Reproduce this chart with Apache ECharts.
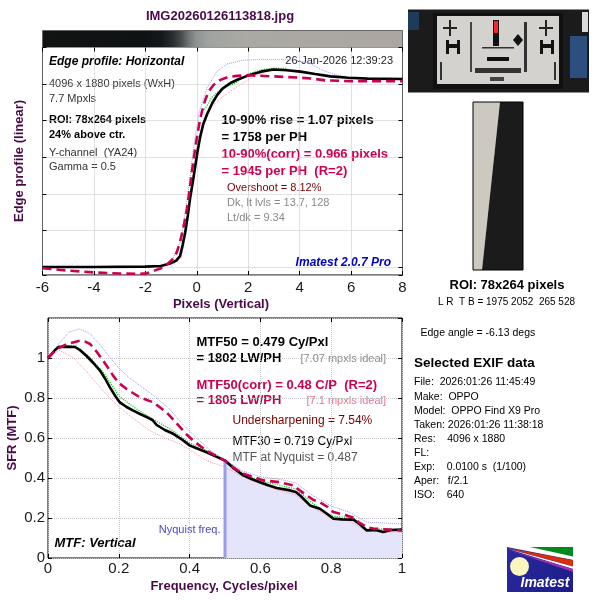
<!DOCTYPE html>
<html>
<head>
<meta charset="utf-8">
<script src="https://cdn.jsdelivr.net/npm/echarts@6/dist/echarts.min.js"></script>
<style>html,body{margin:0;padding:0;background:#fff}#c{width:600px;height:600px}</style>
</head>
<body>
<div id="c"></div>
<script>
// ---------- DATA ----------
// Edge profile (x: pixels, y: normalized linear level)
const edgeBlack = [[-6,0],[-4,0],[-2,0.002],[-1.4,0.005],[-1.04,0.019],[-0.8,0.035],[-0.65,0.06],[-0.55,0.12],[-0.45,0.19],[-0.35,0.28],[-0.26,0.375],[-0.16,0.46],[-0.06,0.55],[0.04,0.64],[0.13,0.71],[0.25,0.78],[0.4,0.835],[0.6,0.895],[0.79,0.94],[1.0,0.975],[1.31,1.006],[1.6,1.025],[1.96,1.045],[2.5,1.068],[2.98,1.08],[3.5,1.076],[4.03,1.068],[4.6,1.055],[5.2,1.042],[5.9,1.035],[6.64,1.03],[8,1.028]];
const edgeCorr = [[-6,-0.007],[-5,-0.02],[-4,-0.03],[-3,-0.036],[-2.2,-0.038],[-1.94,-0.034],[-1.65,-0.02],[-1.42,-0.009],[-1.15,0.015],[-0.91,0.046],[-0.78,0.08],[-0.65,0.137],[-0.5,0.23],[-0.38,0.32],[-0.28,0.42],[-0.19,0.521],[-0.1,0.61],[0.0,0.704],[0.1,0.785],[0.2,0.85],[0.32,0.91],[0.46,0.959],[0.65,0.995],[0.92,1.023],[1.2,1.038],[1.57,1.045],[2.0,1.048],[3.0,1.042],[4.0,1.035],[4.5,1.03],[5.0,1.02],[6,1.016],[8,1.016]];
const edgeHigh = [[-1,0.02],[-0.6,0.15],[-0.3,0.45],[-0.1,0.68],[0.1,0.85],[0.4,0.98],[0.79,1.07],[1.18,1.11],[1.8,1.13],[2.5,1.135],[3.2,1.135],[3.9,1.13],[4.4,1.113],[4.9,1.075],[5.4,1.05],[5.8,1.04]];
const edgeLow = [[-1,0.0],[-0.6,0.05],[-0.4,0.2],[-0.2,0.45],[0,0.65],[0.3,0.8],[0.6,0.88],[1.0,0.93],[1.5,0.98],[2.2,1.04],[2.6,1.06]];
const edgeMid = [[0.3,0.86],[0.6,0.93],[1.0,0.98],[1.43,1.0],[2.0,1.055],[2.5,1.078],[3.0,1.088],[3.5,1.085]];

// MTF (x: cycles/pixel, y: SFR)
const mtfBlack = [[0,1.0],[0.02,1.04],[0.03,1.055],[0.05,1.057],[0.076,1.055],[0.09,1.04],[0.109,1.01],[0.128,0.975],[0.147,0.937],[0.162,0.895],[0.175,0.853],[0.19,0.81],[0.203,0.778],[0.222,0.755],[0.241,0.737],[0.26,0.72],[0.279,0.704],[0.295,0.69],[0.307,0.665],[0.33,0.64],[0.354,0.621],[0.38,0.59],[0.401,0.562],[0.425,0.545],[0.448,0.529],[0.475,0.507],[0.5,0.487],[0.525,0.448],[0.552,0.413],[0.575,0.395],[0.599,0.379],[0.62,0.365],[0.646,0.35],[0.684,0.338],[0.7,0.33],[0.712,0.313],[0.725,0.29],[0.74,0.263],[0.768,0.246],[0.785,0.225],[0.806,0.197],[0.83,0.193],[0.863,0.192],[0.88,0.17],[0.9,0.138],[0.925,0.14],[0.947,0.13],[0.97,0.14],[1.0,0.142]];
const mtfCorr = [[0,1.0],[0.025,1.045],[0.053,1.07],[0.09,1.086],[0.105,1.082],[0.119,1.07],[0.138,1.03],[0.156,0.986],[0.17,0.95],[0.184,0.912],[0.2,0.875],[0.222,0.845],[0.24,0.825],[0.26,0.803],[0.298,0.778],[0.315,0.755],[0.335,0.728],[0.355,0.69],[0.373,0.654],[0.39,0.62],[0.41,0.587],[0.43,0.56],[0.448,0.537],[0.475,0.51],[0.5,0.487],[0.525,0.45],[0.552,0.421],[0.58,0.405],[0.608,0.388],[0.655,0.379],[0.693,0.363],[0.71,0.34],[0.731,0.313],[0.75,0.29],[0.768,0.279],[0.79,0.255],[0.806,0.23],[0.844,0.213],[0.865,0.2],[0.877,0.18],[0.9,0.155],[0.919,0.147],[0.966,0.142],[1.0,0.137]];
const mtfHigh = [[0,1.0],[0.03,1.07],[0.06,1.13],[0.09,1.145],[0.12,1.12],[0.15,1.06],[0.175,1.003],[0.2,0.95],[0.23,0.9],[0.26,0.862],[0.3,0.81],[0.34,0.75],[0.38,0.67],[0.42,0.6],[0.46,0.535],[0.5,0.49],[0.55,0.435],[0.6,0.405],[0.65,0.395],[0.7,0.375],[0.75,0.31],[0.8,0.26],[0.85,0.23],[0.9,0.18],[0.95,0.175],[1.0,0.17]];
const mtfLow = [[0,1.0],[0.03,1.04],[0.071,1.003],[0.11,0.93],[0.147,0.853],[0.18,0.79],[0.213,0.737],[0.25,0.685],[0.288,0.637],[0.33,0.6],[0.373,0.571],[0.41,0.53],[0.448,0.487],[0.5,0.455],[0.55,0.405],[0.6,0.37],[0.65,0.34],[0.7,0.315],[0.75,0.25],[0.8,0.2],[0.85,0.185],[0.9,0.135],[0.95,0.13],[1.0,0.13]];
const mtfMid = [[0.03,1.06],[0.08,1.06],[0.12,1.0],[0.16,0.92],[0.2,0.81],[0.25,0.745],[0.3,0.69],[0.35,0.64],[0.4,0.575],[0.45,0.535],[0.5,0.49],[0.55,0.425],[0.6,0.385],[0.7,0.345],[0.75,0.27],[0.8,0.21],[0.86,0.2],[0.9,0.145],[1.0,0.143]];

const nyquist = 0.5;
const mtfAtNyquist = 0.487;

// ---------- STYLE ----------
const FF = '"Liberation Sans", Arial, sans-serif';
const PURPLE = '#4a0a4a';
const CRIMSON = '#cc0050';

const chart = echarts.init(document.getElementById('c'), null, {renderer:'canvas'});

function tx(text, x, y, font, fill, align, extra) {
  return Object.assign({type:'text', x:x, y:y, silent:true,
    style:{text:text, font:font, fill:fill, textAlign:align||'left', textVerticalAlign:'middle'}}, extra||{});
}
const split = {show:true, lineStyle:{color:'#c4c4c4', type:'dotted', width:1}};
const tickIn = {show:true, inside:true, length:4, lineStyle:{color:'#000'}};
const hid = {show:false};
const noLine = {show:false, onZero:false};

const option = {
  animation:false,
  backgroundColor:'#fff',
  grid:[
    {left:42.5, top:47.5, width:360, height:227.5, show:true, borderColor:'#000', borderWidth:1, backgroundColor:'#fff'},
    {left:48, top:318, width:354, height:240, show:true, borderColor:'#000', borderWidth:1, backgroundColor:'#fff'}
  ],
  xAxis:[
    {type:'value', gridIndex:0, min:-6, max:8, interval:2, axisLine:noLine, axisTick:tickIn, splitLine:split,
      axisLabel:{color:'#1a1a1a', fontSize:15, fontFamily:FF, margin:5}},
    {type:'value', gridIndex:0, position:'top', min:-6, max:8, interval:2, axisLine:noLine, axisTick:tickIn, splitLine:hid, axisLabel:hid},
    {type:'value', gridIndex:1, min:0, max:1, interval:0.2, axisLine:noLine, axisTick:tickIn, splitLine:split,
      axisLabel:{color:'#1a1a1a', fontSize:15, fontFamily:FF, margin:3}},
    {type:'value', gridIndex:1, position:'top', min:0, max:1, interval:0.2, axisLine:noLine, axisTick:tickIn, splitLine:hid, axisLabel:hid}
  ],
  yAxis:[
    {type:'value', gridIndex:0, min:-0.044, max:1.2, splitNumber:6, axisLine:noLine, axisTick:tickIn, splitLine:split, axisLabel:hid},
    {type:'value', gridIndex:0, position:'right', min:-0.044, max:1.2, splitNumber:6, axisLine:noLine, axisTick:tickIn, splitLine:hid, axisLabel:hid},
    {type:'value', gridIndex:1, min:0, max:1.2, interval:0.2, axisLine:noLine, axisTick:tickIn, splitLine:split,
      axisLabel:{color:'#1a1a1a', fontSize:15, fontFamily:FF, margin:3, showMaxLabel:false}},
    {type:'value', gridIndex:1, position:'right', min:0, max:1.2, interval:0.2, axisLine:noLine, axisTick:tickIn, splitLine:hid, axisLabel:hid}
  ],
  series:[
    // top: edge profile
    {type:'line', xAxisIndex:0, yAxisIndex:0, data:edgeHigh, symbol:'none', lineStyle:{color:'#9a9aff', width:1, type:'dotted'}, z:2},
    {type:'line', xAxisIndex:0, yAxisIndex:0, data:edgeLow, symbol:'none', lineStyle:{color:'#ff9aaa', width:1, type:'dotted'}, z:2},
    {type:'line', xAxisIndex:0, yAxisIndex:0, data:edgeMid, symbol:'none', lineStyle:{color:'#00d000', width:1.2, type:'dotted'}, z:2},
    {type:'line', xAxisIndex:0, yAxisIndex:0, data:edgeBlack, symbol:'none', lineStyle:{color:'#000', width:2.6}, z:4},
    {type:'line', xAxisIndex:0, yAxisIndex:0, data:edgeCorr, symbol:'none', lineStyle:{color:CRIMSON, width:2.6, type:[9,5]}, z:5},
    // bottom: MTF
    {type:'line', xAxisIndex:2, yAxisIndex:2, data:mtfBlack.filter(p=>p[0]>=nyquist), symbol:'none',
      lineStyle:{width:0, opacity:0}, areaStyle:{color:'#e4e4fb', opacity:1}, z:1},
    {type:'line', xAxisIndex:2, yAxisIndex:2, data:[[nyquist,0],[nyquist,mtfAtNyquist]], symbol:'none', lineStyle:{color:'#9c9cee', width:3}, z:2},
    {type:'line', xAxisIndex:2, yAxisIndex:2, data:mtfHigh, symbol:'none', lineStyle:{color:'#9a9aff', width:1, type:'dotted'}, z:2},
    {type:'line', xAxisIndex:2, yAxisIndex:2, data:mtfLow, symbol:'none', lineStyle:{color:'#ff9aaa', width:1, type:'dotted'}, z:2},
    {type:'line', xAxisIndex:2, yAxisIndex:2, data:mtfMid, symbol:'none', lineStyle:{color:'#00d000', width:1.2, type:'dotted'}, z:2},
    {type:'line', xAxisIndex:2, yAxisIndex:2, data:mtfBlack, symbol:'none', lineStyle:{color:'#000', width:2.6}, z:4},
    {type:'line', xAxisIndex:2, yAxisIndex:2, data:mtfCorr, symbol:'none', lineStyle:{color:CRIMSON, width:2.6, type:[9,5]}, z:5}
  ],
  graphic:[
    // gray-level bar above edge plot
    {type:'rect', shape:{x:42.5, y:30.5, width:360, height:17}, silent:true,
      style:{stroke:'#666', lineWidth:1, fill:new echarts.graphic.LinearGradient(0,0,1,0,[
        {offset:0,color:'#121312'},{offset:0.28,color:'#0f1214'},{offset:0.33,color:'#141719'},
        {offset:0.36,color:'#262b2d'},{offset:0.385,color:'#474a4a'},{offset:0.405,color:'#6e7272'},
        {offset:0.425,color:'#8d9190'},{offset:0.46,color:'#9ea2a0'},{offset:0.56,color:'#aaa9a3'},{offset:1,color:'#aba69f'}])}},
    // titles
    tx('IMG20260126113818.jpg', 220, 16, 'bold 13px '+FF, PURPLE, 'center'),
    tx('Pixels (Vertical)', 221, 304, 'bold 13px '+FF, PURPLE, 'center'),
    tx('Frequency, Cycles/pixel', 224, 586, 'bold 13px '+FF, PURPLE, 'center'),
    tx('Edge profile (linear)', 19, 161, 'bold 13px '+FF, PURPLE, 'center', {rotation:Math.PI/2}),
    tx('SFR (MTF)', 12, 438, 'bold 13px '+FF, PURPLE, 'center', {rotation:Math.PI/2}),
    // top plot annotations
    tx('Edge profile: Horizontal', 49, 62, 'italic bold 12px '+FF, '#000'),
    tx('26-Jan-2026 12:39:23', 393, 61, '11px '+FF, '#222', 'right'),
    tx('4096 x 1880 pixels (WxH)', 49, 83.5, '11px '+FF, '#333'),
    tx('7.7 Mpxls', 49, 99, '11px '+FF, '#333'),
    tx('ROI: 78x264 pixels', 49, 120, 'bold 11px '+FF, '#000'),
    tx('24% above ctr.', 49, 135, 'bold 11px '+FF, '#000'),
    tx('Y-channel  (YA24)', 49, 152.5, '11px '+FF, '#333'),
    tx('Gamma = 0.5', 49, 167, '11px '+FF, '#333'),
    tx('10-90% rise = 1.07 pixels', 221.5, 120, 'bold 13px '+FF, '#000'),
    tx('= 1758 per PH', 221.5, 137, 'bold 13px '+FF, '#000'),
    tx('10-90%(corr) = 0.966 pixels', 221.5, 154.5, 'bold 13px '+FF, CRIMSON),
    tx('= 1945 per PH  (R=2)', 221.5, 171, 'bold 13px '+FF, CRIMSON),
    tx('Overshoot = 8.12%', 227, 187.5, '11px '+FF, '#7a0000'),
    tx('Dk, lt lvls = 13.7, 128', 227, 203, '11px '+FF, '#888'),
    tx('Lt/dk = 9.34', 227, 217.5, '11px '+FF, '#888'),
    tx('Imatest 2.0.7 Pro', 391, 262.5, 'italic bold 12px '+FF, '#0000cc', 'right'),
    // bottom plot annotations
    tx('MTF50 = 0.479 Cy/Pxl', 196.5, 342.5, 'bold 13px '+FF, '#000'),
    tx('= 1802 LW/PH', 196.5, 358.5, 'bold 13px '+FF, '#000'),
    tx('[7.07 mpxls ideal]', 386, 359, '11px '+FF, '#8a8a8a', 'right'),
    tx('MTF50(corr) = 0.48 C/P  (R=2)', 196.5, 385, 'bold 13px '+FF, CRIMSON),
    tx('= 1805 LW/PH', 196.5, 400.5, 'bold 13px '+FF, CRIMSON),
    tx('[7.1 mpxls ideal]', 386, 400.5, '11px '+FF, '#ee7090', 'right'),
    tx('Undersharpening = 7.54%', 232.5, 421, '12px '+FF, '#7a0000'),
    tx('MTF30 = 0.719 Cy/Pxl', 232.5, 441.5, '12px '+FF, '#000'),
    tx('MTF at Nyquist = 0.487', 232.5, 457.5, '12px '+FF, '#555'),
    tx('Nyquist freq.', 220.5, 530, '11px '+FF, '#4848c8', 'right'),
    tx('MTF: Vertical', 54.5, 543.5, 'italic bold 13px '+FF, '#000'),
    // thumbnail of chart
    {type:'group', silent:true, children:[
      {type:'rect', shape:{x:408, y:9.5, width:181, height:83}, style:{fill:'#1b1b1b'}},
      {type:'rect', shape:{x:408, y:12, width:11, height:18}, style:{fill:'#1f3b5c'}},
      {type:'rect', shape:{x:570, y:36, width:17, height:42}, style:{fill:'#2d4f80'}},
      {type:'rect', shape:{x:582, y:12, width:6, height:20}, style:{fill:'#d8d8d8'}},
      {type:'rect', shape:{x:433, y:13, width:130, height:76}, style:{fill:'#111'}},
      {type:'rect', shape:{x:437, y:16, width:122, height:68}, style:{fill:'#d4d2ce'}},
      {type:'rect', shape:{x:446, y:44, width:14, height:4}, style:{fill:'#111'}},
      {type:'rect', shape:{x:446, y:40, width:3, height:14}, style:{fill:'#111'}},
      {type:'rect', shape:{x:457, y:40, width:3, height:14}, style:{fill:'#111'}},
      {type:'rect', shape:{x:540, y:44, width:14, height:4}, style:{fill:'#111'}},
      {type:'rect', shape:{x:540, y:40, width:3, height:14}, style:{fill:'#111'}},
      {type:'rect', shape:{x:551, y:40, width:3, height:14}, style:{fill:'#111'}},
      {type:'rect', shape:{x:449, y:20, width:2, height:16}, style:{fill:'#222'}},
      {type:'rect', shape:{x:443, y:27, width:14, height:2}, style:{fill:'#222'}},
      {type:'rect', shape:{x:545, y:20, width:2, height:16}, style:{fill:'#222'}},
      {type:'rect', shape:{x:539, y:27, width:14, height:2}, style:{fill:'#222'}},
      {type:'rect', shape:{x:493, y:20, width:6, height:26}, style:{fill:'#111'}},
      {type:'rect', shape:{x:494, y:21, width:4, height:12}, style:{fill:'#ff2424'}},
      {type:'rect', shape:{x:524, y:22, width:3, height:50}, style:{fill:'#333'}},
      {type:'rect', shape:{x:470, y:22, width:2, height:50}, style:{fill:'#444'}},
      {type:'rect', shape:{x:440, y:62, width:2, height:18}, style:{fill:'#333'}},
      {type:'rect', shape:{x:554, y:62, width:2, height:18}, style:{fill:'#333'}},
      {type:'polygon', shape:{points:[[518,34],[523,40],[518,46],[513,40]]}, style:{fill:'#111'}},
      {type:'rect', shape:{x:487, y:57, width:22, height:4}, style:{fill:'#111'}},
      {type:'rect', shape:{x:475, y:68, width:46, height:5}, style:{fill:'#333'}},
      {type:'rect', shape:{x:482, y:47, width:32, height:1.5}, style:{fill:'#333'}},
      {type:'rect', shape:{x:490, y:77, width:14, height:4}, style:{fill:'#444'}}
    ]},
    // ROI crop
    {type:'group', silent:true, children:[
      {type:'polygon', shape:{points:[[473,102],[500,102],[482,270],[473,270]]}, style:{fill:'#cdc9c1'}},
      {type:'polygon', shape:{points:[[500,102],[523,102],[523,270],[482,270]]}, style:{fill:'#1b1b1b'}},
      {type:'rect', shape:{x:473, y:102, width:50, height:168}, style:{fill:'none', stroke:'#000', lineWidth:1}}
    ]},
    tx('ROI: 78x264 pixels', 507, 285, 'bold 13px '+FF, '#000', 'center'),
    tx('L R  T B = 1975 2052  265 528', 506.5, 302.5, '10px '+FF, '#000', 'center'),
    tx('Edge angle = -6.13 degs', 420.5, 333.5, '10.5px '+FF, '#000'),
    tx('Selected EXIF data', 414, 363, 'bold 13.5px '+FF, '#000'),
    tx('File:  2026:01:26 11:45:49', 414, 382.5, '10.5px '+FF, '#000'),
    tx('Make:  OPPO', 414, 397, '10.5px '+FF, '#000'),
    tx('Model:  OPPO Find X9 Pro', 414, 411, '10.5px '+FF, '#000'),
    tx('Taken: 2026:01:26 11:38:18', 414, 425, '10.5px '+FF, '#000'),
    tx('Res:    4096 x 1880', 414, 439, '10.5px '+FF, '#000'),
    tx('FL:', 414, 453, '10.5px '+FF, '#000'),
    tx('Exp:    0.0100 s  (1/100)', 414, 467, '10.5px '+FF, '#000'),
    tx('Aper:   f/2.1', 414, 481.5, '10.5px '+FF, '#000'),
    tx('ISO:    640', 414, 495, '10.5px '+FF, '#000'),
    // Imatest logo
    {type:'group', silent:true, children:[
      {type:'rect', shape:{x:507, y:547, width:66, height:45}, style:{fill:new echarts.graphic.LinearGradient(0,0,1,1,[{offset:0,color:'#2a2a9e'},{offset:1,color:'#1c1c8a'}])}},
      {type:'polygon', shape:{points:[[507,547],[573,547],[573,556.5]]}, style:{fill:'#008a1e'}},
      {type:'polygon', shape:{points:[[507,547],[530,547],[573,556.5],[573,560]]}, style:{fill:'#ffffff'}},
      {type:'polygon', shape:{points:[[507,548],[573,560],[573,566.5]]}, style:{fill:'#d63010'}},
      {type:'polygon', shape:{points:[[507,548.5],[573,566.5],[573,569]]}, style:{fill:'#ffffff'}},
      {type:'polygon', shape:{points:[[507,549.5],[573,569],[573,572]]}, style:{fill:'#a030b0'}},
      {type:'circle', shape:{cx:519.5, cy:566.5, r:9.5}, style:{fill:'#fbf6c0'}},
      tx('Imatest', 545, 583, 'italic bold 14px '+FF, '#fff', 'center')
    ]}
  ]
};
chart.setOption(option);
</script>
</body>
</html>
